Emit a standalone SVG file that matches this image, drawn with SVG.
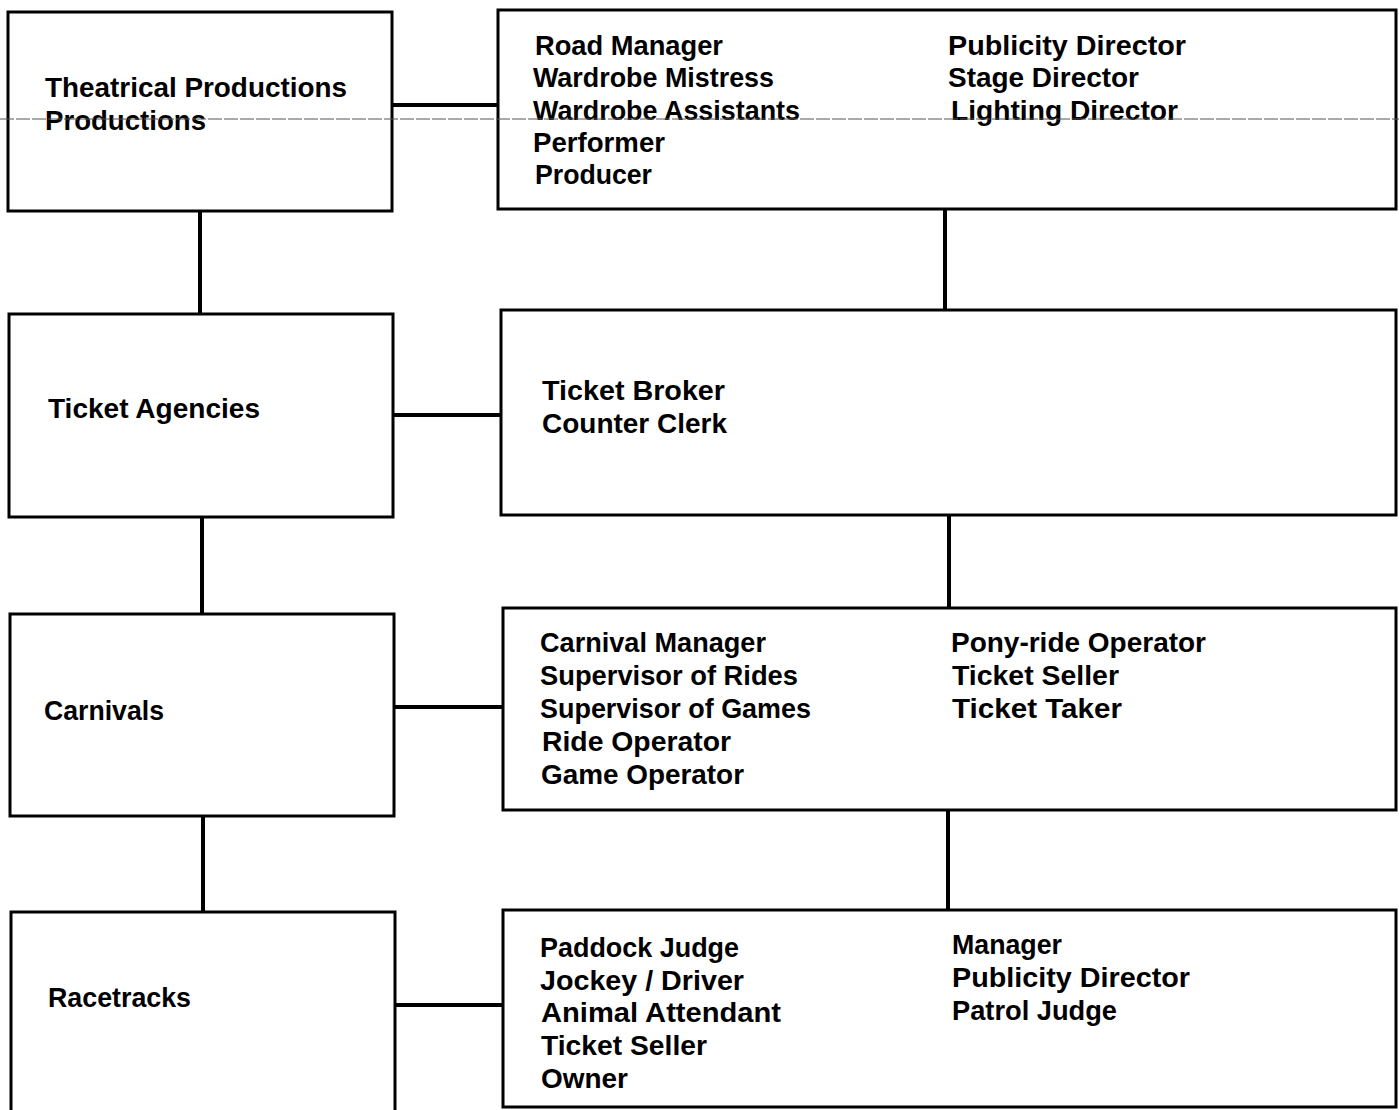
<svg xmlns="http://www.w3.org/2000/svg" width="1399" height="1110" viewBox="0 0 1399 1110">
<style>
.box{fill:#fff;stroke:#000;stroke-width:3}
.con{stroke:#000;stroke-width:4;fill:none}
.t{font-family:"Liberation Sans",Arial,sans-serif;font-weight:bold;font-size:28px;fill:#000}
</style>
<rect width="1399" height="1110" fill="#fff"/>
<g id="connectors">
<line class="con" x1="392" y1="105" x2="498" y2="105"/>
<line class="con" x1="393" y1="415" x2="501" y2="415"/>
<line class="con" x1="394" y1="707" x2="503" y2="707"/>
<line class="con" x1="395" y1="1005" x2="503" y2="1005"/>
<line class="con" x1="200" y1="211" x2="200" y2="314"/>
<line class="con" x1="202" y1="517" x2="202" y2="614"/>
<line class="con" x1="203" y1="816" x2="203" y2="912"/>
<line class="con" x1="945" y1="209" x2="945" y2="310"/>
<line class="con" x1="949" y1="515" x2="949" y2="608"/>
<line class="con" x1="948" y1="810" x2="948" y2="910"/>
</g>
<g id="theatrical">
<rect class="box" x="8" y="12" width="384" height="199"/>
<text class="t" x="45" y="97" textLength="302" lengthAdjust="spacingAndGlyphs">Theatrical Productions</text>
<text class="t" x="45" y="130" textLength="161" lengthAdjust="spacingAndGlyphs">Productions</text>
</g>
<g id="theatrical-jobs">
<rect class="box" x="498" y="10" width="898" height="199"/>
<text class="t" x="535" y="55" textLength="188" lengthAdjust="spacingAndGlyphs">Road Manager</text>
<text class="t" x="533" y="87" textLength="241" lengthAdjust="spacingAndGlyphs">Wardrobe Mistress</text>
<text class="t" x="533" y="120" textLength="267" lengthAdjust="spacingAndGlyphs">Wardrobe Assistants</text>
<text class="t" x="533" y="152" textLength="132" lengthAdjust="spacingAndGlyphs">Performer</text>
<text class="t" x="535" y="184" textLength="117" lengthAdjust="spacingAndGlyphs">Producer</text>
<text class="t" x="948" y="55" textLength="238" lengthAdjust="spacingAndGlyphs">Publicity Director</text>
<text class="t" x="948" y="87" textLength="191" lengthAdjust="spacingAndGlyphs">Stage Director</text>
<text class="t" x="951" y="120" textLength="227" lengthAdjust="spacingAndGlyphs">Lighting Director</text>
</g>
<line x1="0" y1="119" x2="1399" y2="119" stroke="#555" stroke-width="1" stroke-dasharray="14 2"/>
<g id="ticket-agencies">
<rect class="box" x="9" y="314" width="384" height="203"/>
<text class="t" x="48" y="418" textLength="212" lengthAdjust="spacingAndGlyphs">Ticket Agencies</text>
</g>
<g id="ticket-jobs">
<rect class="box" x="501" y="310" width="895" height="205"/>
<text class="t" x="542" y="400" textLength="183" lengthAdjust="spacingAndGlyphs">Ticket Broker</text>
<text class="t" x="542" y="433" textLength="185" lengthAdjust="spacingAndGlyphs">Counter Clerk</text>
</g>
<g id="carnivals">
<rect class="box" x="10" y="614" width="384" height="202"/>
<text class="t" x="44" y="720" textLength="120" lengthAdjust="spacingAndGlyphs">Carnivals</text>
</g>
<g id="carnival-jobs">
<rect class="box" x="503" y="608" width="893" height="202"/>
<text class="t" x="540" y="652" textLength="226" lengthAdjust="spacingAndGlyphs">Carnival Manager</text>
<text class="t" x="540" y="685" textLength="258" lengthAdjust="spacingAndGlyphs">Supervisor of Rides</text>
<text class="t" x="540" y="718" textLength="271" lengthAdjust="spacingAndGlyphs">Supervisor of Games</text>
<text class="t" x="542" y="751" textLength="189" lengthAdjust="spacingAndGlyphs">Ride Operator</text>
<text class="t" x="541" y="784" textLength="203" lengthAdjust="spacingAndGlyphs">Game Operator</text>
<text class="t" x="951" y="652" textLength="255" lengthAdjust="spacingAndGlyphs">Pony-ride Operator</text>
<text class="t" x="952" y="685" textLength="167" lengthAdjust="spacingAndGlyphs">Ticket Seller</text>
<text class="t" x="952" y="718" textLength="170" lengthAdjust="spacingAndGlyphs">Ticket Taker</text>
</g>
<g id="racetracks">
<rect class="box" x="11" y="912" width="384" height="210"/>
<text class="t" x="48" y="1007" textLength="143" lengthAdjust="spacingAndGlyphs">Racetracks</text>
</g>
<g id="racetrack-jobs">
<rect class="box" x="503" y="910" width="893" height="197"/>
<text class="t" x="540" y="957" textLength="199" lengthAdjust="spacingAndGlyphs">Paddock Judge</text>
<text class="t" x="540" y="990" textLength="204" lengthAdjust="spacingAndGlyphs">Jockey / Driver</text>
<text class="t" x="541" y="1022" textLength="240" lengthAdjust="spacingAndGlyphs">Animal Attendant</text>
<text class="t" x="541" y="1055" textLength="166" lengthAdjust="spacingAndGlyphs">Ticket Seller</text>
<text class="t" x="541" y="1088" textLength="87" lengthAdjust="spacingAndGlyphs">Owner</text>
<text class="t" x="952" y="954" textLength="110" lengthAdjust="spacingAndGlyphs">Manager</text>
<text class="t" x="952" y="987" textLength="238" lengthAdjust="spacingAndGlyphs">Publicity Director</text>
<text class="t" x="952" y="1020" textLength="165" lengthAdjust="spacingAndGlyphs">Patrol Judge</text>
</g>
</svg>
